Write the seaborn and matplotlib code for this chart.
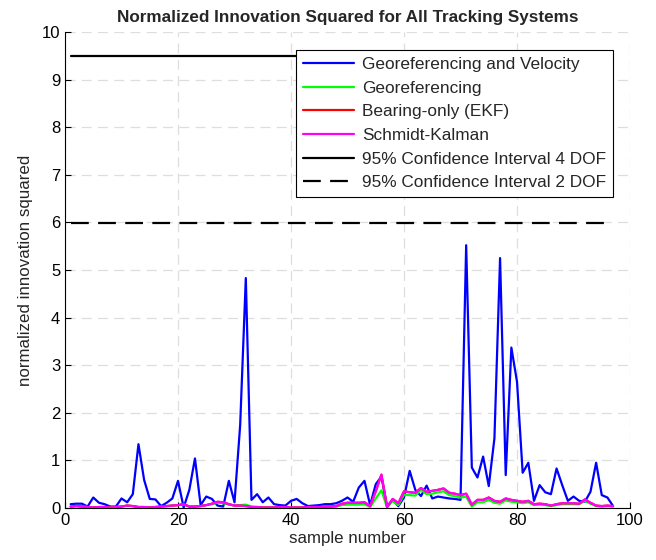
import numpy as np
import pandas as pd
import seaborn as sns
import matplotlib
matplotlib.use("Agg")
import matplotlib.pyplot as plt

samples = list(range(1, 98))

geo_vel = [0.08, 0.09, 0.09, 0.03, 0.22, 0.11, 0.08, 0.03, 0.03, 0.20,
           0.12, 0.29, 1.34, 0.59, 0.19, 0.18, 0.04, 0.11, 0.20, 0.57,
           0.01, 0.38, 1.04, 0.06, 0.24, 0.19, 0.05, 0.03, 0.57, 0.12,
           1.74, 4.83, 0.17, 0.29, 0.12, 0.22, 0.08, 0.06, 0.05, 0.15,
           0.19, 0.10, 0.04, 0.05, 0.06, 0.08, 0.08, 0.10, 0.15, 0.22,
           0.13, 0.43, 0.57, 0.06, 0.50, 0.66, 0.03, 0.17, 0.04, 0.22,
           0.78, 0.38, 0.25, 0.47, 0.20, 0.24, 0.22, 0.20, 0.19, 0.17,
           5.52, 0.85, 0.64, 1.08, 0.46, 1.46, 5.25, 0.69, 3.37, 2.65,
           0.74, 0.95, 0.15, 0.48, 0.33, 0.29, 0.83, 0.48, 0.15, 0.24,
           0.15, 0.13, 0.34, 0.95, 0.27, 0.22, 0.04]

geo = [0.03, 0.04, 0.03, 0.02, 0.01, 0.02, 0.02, 0.01, 0.02, 0.03,
       0.05, 0.04, 0.02, 0.02, 0.01, 0.02, 0.03, 0.04, 0.05, 0.06,
       0.07, 0.03, 0.03, 0.04, 0.06, 0.08, 0.11, 0.10, 0.07, 0.05,
       0.06, 0.07, 0.03, 0.02, 0.01, 0.01, 0.01, 0.02, 0.02, 0.01,
       0.01, 0.01, 0.02, 0.02, 0.02, 0.02, 0.03, 0.03, 0.06, 0.07,
       0.07, 0.07, 0.08, 0.02, 0.20, 0.37, 0.01, 0.15, 0.06, 0.28,
       0.27, 0.26, 0.38, 0.29, 0.30, 0.33, 0.35, 0.27, 0.25, 0.22,
       0.24, 0.03, 0.12, 0.12, 0.17, 0.11, 0.09, 0.16, 0.13, 0.12,
       0.10, 0.12, 0.06, 0.07, 0.06, 0.04, 0.06, 0.08, 0.08, 0.08,
       0.08, 0.15, 0.09, 0.04, 0.03, 0.04, 0.03]

bearing = [0.03, 0.04, 0.03, 0.02, 0.01, 0.02, 0.02, 0.01, 0.02, 0.03,
           0.05, 0.04, 0.02, 0.02, 0.01, 0.02, 0.03, 0.04, 0.05, 0.06,
           0.08, 0.03, 0.03, 0.04, 0.06, 0.09, 0.13, 0.12, 0.08, 0.05,
           0.05, 0.04, 0.02, 0.02, 0.01, 0.01, 0.01, 0.02, 0.02, 0.01,
           0.01, 0.01, 0.02, 0.02, 0.02, 0.03, 0.03, 0.04, 0.09, 0.11,
           0.11, 0.11, 0.12, 0.04, 0.35, 0.70, 0.02, 0.19, 0.10, 0.35,
           0.33, 0.32, 0.42, 0.34, 0.36, 0.38, 0.41, 0.32, 0.30, 0.27,
           0.30, 0.07, 0.17, 0.17, 0.22, 0.15, 0.13, 0.20, 0.17, 0.15,
           0.13, 0.15, 0.08, 0.09, 0.08, 0.05, 0.08, 0.10, 0.10, 0.10,
           0.09, 0.18, 0.11, 0.05, 0.04, 0.05, 0.04]

schmidt = [0.03, 0.04, 0.03, 0.02, 0.01, 0.02, 0.02, 0.01, 0.02, 0.03,
           0.05, 0.04, 0.02, 0.02, 0.01, 0.02, 0.03, 0.04, 0.05, 0.06,
           0.08, 0.03, 0.03, 0.04, 0.06, 0.09, 0.13, 0.12, 0.08, 0.05,
           0.05, 0.04, 0.02, 0.02, 0.01, 0.01, 0.01, 0.02, 0.02, 0.01,
           0.01, 0.01, 0.02, 0.02, 0.02, 0.03, 0.03, 0.04, 0.09, 0.11,
           0.11, 0.11, 0.12, 0.04, 0.35, 0.70, 0.02, 0.19, 0.10, 0.35,
           0.33, 0.32, 0.42, 0.34, 0.36, 0.38, 0.41, 0.32, 0.30, 0.27,
           0.30, 0.07, 0.17, 0.17, 0.22, 0.15, 0.13, 0.20, 0.17, 0.15,
           0.13, 0.15, 0.08, 0.09, 0.08, 0.05, 0.08, 0.10, 0.10, 0.10,
           0.09, 0.18, 0.11, 0.05, 0.04, 0.05, 0.04]

ci_x = [1, 97]
ci_4dof = [9.49, 9.49]
ci_2dof = [5.99, 5.99]

labels = ["Georeferencing and Velocity", "Georeferencing", "Bearing-only (EKF)",
          "Schmidt-Kalman", "95% Confidence Interval 4 DOF",
          "95% Confidence Interval 2 DOF"]
x_ticks = [0, 20, 40, 60, 80, 100]
y_ticks = list(range(0, 11))

sns.set_theme(style="white")
plt.rcParams['font.family'] = ['Liberation Sans', 'DejaVu Sans']

fig = plt.figure(figsize=(6.56, 5.6), dpi=100)
ax = fig.add_axes([0.0991, 0.0929, 0.9604 - 0.0991, 0.9429 - 0.0929])

lw = 1.6
sns.lineplot(x=samples, y=geo_vel, ax=ax, color="#0000ff", lw=lw, label=labels[0])
sns.lineplot(x=samples, y=geo, ax=ax, color="#00ff00", lw=lw, label=labels[1])
sns.lineplot(x=samples, y=bearing, ax=ax, color="#ff0000", lw=lw, label=labels[2])
sns.lineplot(x=samples, y=schmidt, ax=ax, color="#ff00ff", lw=lw, label=labels[3])
sns.lineplot(x=ci_x, y=ci_4dof, ax=ax, color="black", lw=lw, label=labels[4])
sns.lineplot(x=ci_x, y=ci_2dof, ax=ax, color="black", lw=lw, label=labels[5])
ax.lines[-1].set_dashes((8, 4.2))

ax.set_xlim(0, 100)
ax.set_ylim(0, 10)
ax.set_xticks(x_ticks)
ax.set_yticks(y_ticks)
ax.grid(True, color="#dedede", lw=0.9, linestyle=(0, (8, 5)))
ax.set_axisbelow(True)
for s in ["top", "right"]:
    ax.spines[s].set_visible(False)
for s in ["left", "bottom"]:
    ax.spines[s].set_color("black")
    ax.spines[s].set_linewidth(0.8)
ax.tick_params(direction="in", length=4, width=0.8, labelsize=12,
               left=True, bottom=True, colors="black")

ax.set_xlabel("sample number", fontsize=12.2, labelpad=2)
ax.set_ylabel("normalized innovation squared", fontsize=12.2, labelpad=6)
ax.set_title("Normalized Innovation Squared for All Tracking Systems",
             fontsize=12.3, fontweight="bold", pad=7)

leg = ax.legend(loc="upper right", bbox_to_anchor=(0.97, 0.962), fontsize=12.4,
                frameon=True, fancybox=False, edgecolor="black",
                borderpad=0.4, labelspacing=0.5, handlelength=3.0,
                handletextpad=0.45, borderaxespad=0)
leg.get_frame().set_linewidth(0.8)
leg.get_frame().set_alpha(1)

fig.savefig("out.png", dpi=100)
